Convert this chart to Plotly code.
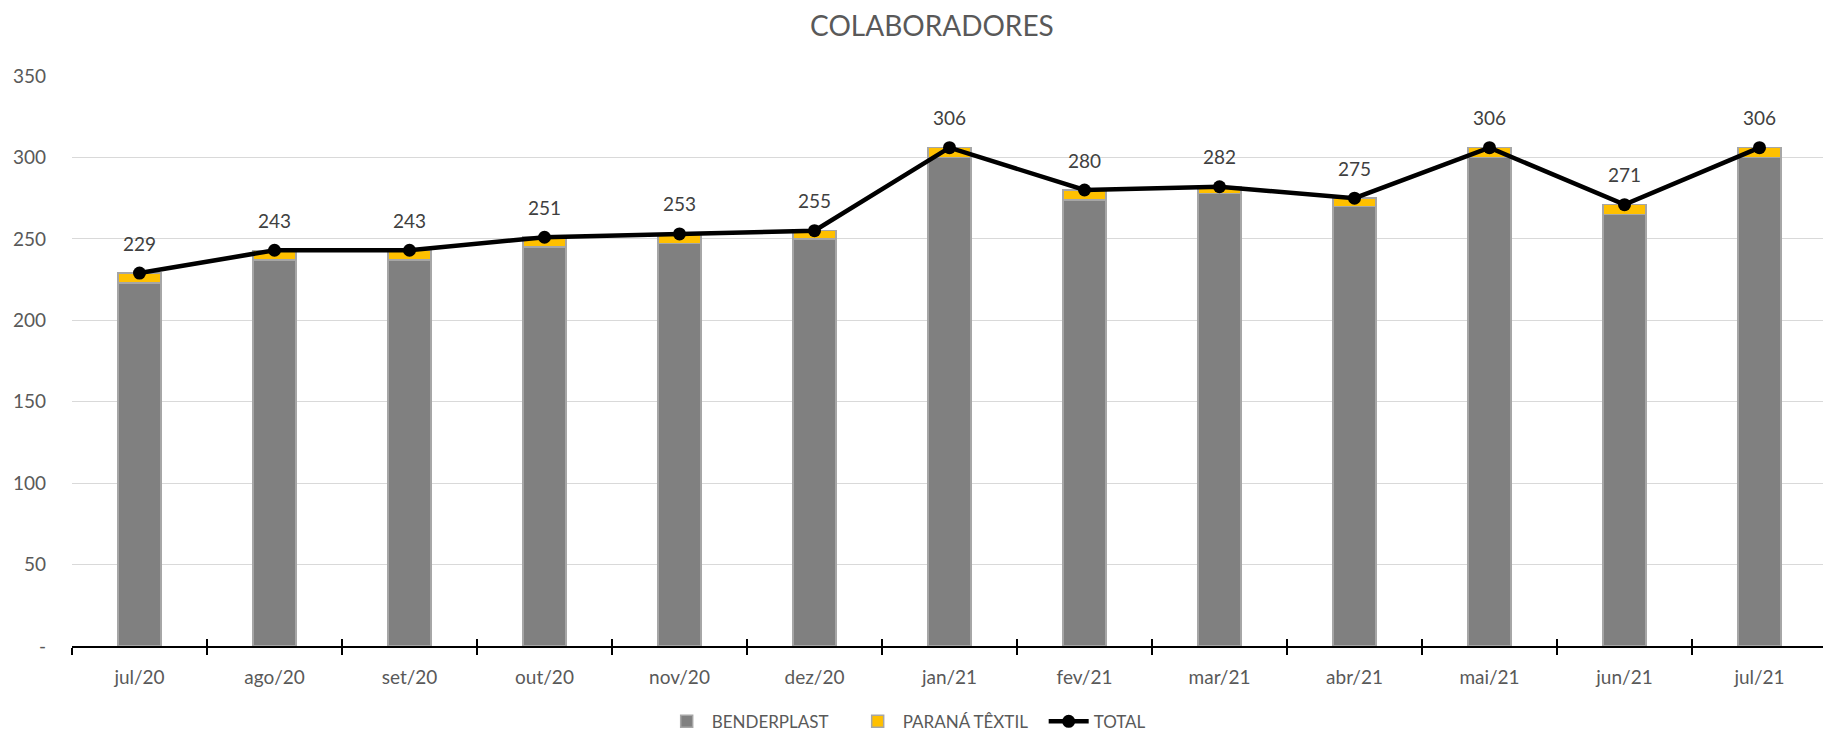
import plotly.graph_objects as go

categories = ["jul/20", "ago/20", "set/20", "out/20", "nov/20", "dez/20", "jan/21",
              "fev/21", "mar/21", "abr/21", "mai/21", "jun/21", "jul/21"]
benderplast = [223, 237, 237, 245, 247, 250, 300, 274, 278, 270, 300, 265, 300]
parana_textil = [6, 6, 6, 6, 6, 5, 6, 6, 4, 5, 6, 6, 6]
total = [229, 243, 243, 251, 253, 255, 306, 280, 282, 275, 306, 271, 306]
y_ticks = [0, 50, 100, 150, 200, 250, 300, 350]
y_ticktext = ["-", "50", "100", "150", "200", "250", "300", "350"]

FONT = "Lato"
W, H = 1823, 726
fig = go.Figure()
fig.add_trace(go.Bar(x=categories, y=benderplast, name="BENDERPLAST",
                     marker=dict(color="#808080", line=dict(color="#A6A6A6", width=1.5))))
fig.add_trace(go.Bar(x=categories, y=parana_textil, name="PARANÁ TÊXTIL",
                     marker=dict(color="#FFC000", line=dict(color="#A6A6A6", width=1.5))))
fig.add_trace(go.Scatter(x=categories, y=total, name="TOTAL", mode="lines+markers",
                         line=dict(color="#000000", width=4.5),
                         marker=dict(color="#000000", size=13)))
# invisible trace to carry the crossing tick marks
fig.add_trace(go.Scatter(x=categories, y=total, xaxis="x2", yaxis="y",
                         mode="markers", marker=dict(opacity=0), showlegend=False,
                         hoverinfo="skip"))

for c, t in zip(categories, total):
    fig.add_annotation(x=c, y=t, text=str(t), showarrow=False, yshift=30,
                       font=dict(family=FONT, size=19, color="#404040"))

fig.update_layout(
    width=W, height=H,
    barmode="stack", bargap=0.68,
    plot_bgcolor="white", paper_bgcolor="white",
    margin=dict(l=64, r=4, t=68, b=88, autoexpand=False),
    title=dict(text="COLABORADORES", x=0.49, xref="paper", y=1 - 18 / H,
               yanchor="middle", xanchor="center",
               font=dict(family=FONT, size=28, color="#595959")),
    font=dict(family=FONT, color="#595959"),
    legend=dict(orientation="h", x=0.336, xanchor="left", y=-0.133, yanchor="middle",
                font=dict(family=FONT, size=17, color="#595959"),
                traceorder="normal", itemwidth=40, tracegroupgap=0,
                entrywidth=136, entrywidthmode="pixels"),
    xaxis=dict(type="category", categoryorder="array", categoryarray=categories,
               range=[-0.5, 12.5], automargin=False,
               showline=True, linecolor="#000000", linewidth=2,
               ticks="outside", tickson="boundaries", ticklen=7, tickwidth=2,
               tickcolor="#000000", showgrid=False,
               tickfont=dict(family=FONT, size=19, color="#595959"),
               ticklabelstandoff=13),
    xaxis2=dict(type="category", categoryorder="array", categoryarray=categories,
                range=[-0.5, 12.5], overlaying="x", side="bottom", automargin=False,
                ticks="inside", tickson="boundaries", ticklen=7, tickwidth=2,
                tickcolor="#000000", showticklabels=False, showgrid=False,
                showline=False),
    yaxis=dict(range=[0, 350], tickvals=y_ticks, ticktext=y_ticktext, automargin=False,
               showgrid=True, gridcolor="#D9D9D9", gridwidth=1.3,
               zeroline=False, showline=False, ticks="",
               tickfont=dict(family=FONT, size=19, color="#595959"),
               ticklabelstandoff=25),
)
fig.write_html("out.html")
